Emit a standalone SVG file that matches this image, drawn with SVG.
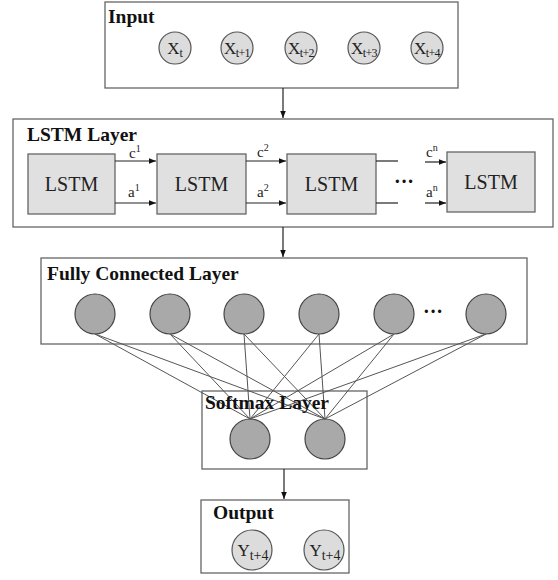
<svg xmlns="http://www.w3.org/2000/svg" width="558" height="580" viewBox="0 0 558 580">
<style>
.box{fill:#fff;stroke:#666;stroke-width:1.3}
.title{font-family:"Liberation Serif",serif;font-weight:bold;font-size:19.5px;fill:#111}
.lstm{fill:#e0e0e0;stroke:#666;stroke-width:1.3}
.lt{font-family:"Liberation Serif",serif;font-size:20px;fill:#222;text-anchor:middle}
.in{fill:#dcdcdc;stroke:#555;stroke-width:1.2}
.fc{fill:#a9a9a9;stroke:#444;stroke-width:1.2}
.ct{font-family:"Liberation Serif",serif;font-size:17px;fill:#222;text-anchor:middle}
.sm{font-family:"Liberation Serif",serif;font-size:15px;fill:#222}
.ln{stroke:#222;stroke-width:1.2;fill:none}
.fl{stroke:#555;stroke-width:1}
.dots{font-family:"Liberation Serif",serif;font-weight:bold;font-size:20px;fill:#111}
</style>
<defs>
<marker id="ah" viewBox="0 0 10 10" refX="10" refY="5" markerWidth="7" markerHeight="7" orient="auto" markerUnits="userSpaceOnUse">
<path d="M0,1 L10,5 L0,9 Z" fill="#111"/>
</marker>
</defs>

<g id="input">
<rect class="box" x="105" y="2" width="353" height="86"/>
<text class="title" x="108" y="23">Input</text>
<circle class="in" cx="175" cy="48" r="16"/>
<circle class="in" cx="237" cy="48" r="16"/>
<circle class="in" cx="301" cy="48" r="16"/>
<circle class="in" cx="364" cy="48" r="16"/>
<circle class="in" cx="427" cy="48" r="16"/>
<text class="ct" x="175" y="54" font-size="17.5">X<tspan font-size="12" dy="3">t</tspan></text>
<text class="ct" x="237" y="54" font-size="17.5" letter-spacing="-0.6">X<tspan font-size="12" dy="3">t+1</tspan></text>
<text class="ct" x="301" y="54" font-size="17.5" letter-spacing="-0.6">X<tspan font-size="12" dy="3">t+2</tspan></text>
<text class="ct" x="364" y="54" font-size="17.5" letter-spacing="-0.6">X<tspan font-size="12" dy="3">t+3</tspan></text>
<text class="ct" x="427" y="54" font-size="17.5" letter-spacing="-0.6">X<tspan font-size="12" dy="3">t+4</tspan></text>
</g>

<g id="lstm-layer">
<rect class="box" x="13" y="119" width="540" height="108"/>
<text class="title" x="27" y="141" font-size="18.5">LSTM Layer</text>
</g>
<g id="lstm1">
<rect class="lstm" x="28" y="154" width="87" height="60"/>
<text class="lt" x="71.5" y="191">LSTM</text>
</g>
<g id="lstm2">
<rect class="lstm" x="157" y="154" width="89" height="60"/>
<text class="lt" x="201.5" y="191">LSTM</text>
</g>
<g id="lstm3">
<rect class="lstm" x="287" y="154" width="89" height="60"/>
<text class="lt" x="331.5" y="191">LSTM</text>
</g>
<g id="lstm4">
<rect class="lstm" x="447" y="152" width="88" height="60"/>
<text class="lt" x="491" y="189">LSTM</text>
</g>

<g id="fc-layer">
<rect class="box" x="41" y="258" width="486" height="86"/>
<text class="title" x="47" y="280">Fully Connected Layer</text>
<circle class="fc" cx="95" cy="314" r="20"/>
<circle class="fc" cx="170" cy="314" r="20"/>
<circle class="fc" cx="244" cy="314" r="20"/>
<circle class="fc" cx="319" cy="314" r="20"/>
<circle class="fc" cx="394" cy="314" r="20"/>
<circle class="fc" cx="486" cy="314" r="20"/>
<text class="dots" x="423" y="318">···</text>
</g>

<g id="softmax-layer">
<rect class="box" x="202" y="391" width="165" height="78"/>
<circle class="fc" cx="250" cy="439" r="20"/>
<circle class="fc" cx="325" cy="439" r="20"/>
</g>

<g id="output">
<rect class="box" x="201" y="500" width="148" height="73"/>
<text class="title" x="213" y="519">Output</text>
<circle class="in" cx="252" cy="550" r="20"/>
<circle class="in" cx="324" cy="550" r="20"/>
<text class="ct" x="253" y="556" font-size="18">Y<tspan font-size="14" dy="4">t+4</tspan></text>
<text class="ct" x="325" y="556" font-size="18">Y<tspan font-size="14" dy="4">t+4</tspan></text>
</g>

<g id="connectors">
<line class="ln" x1="283" y1="88" x2="283" y2="118" marker-end="url(#ah)"/>
<line class="ln" x1="283" y1="227" x2="283" y2="257" marker-end="url(#ah)"/>
<line class="ln" x1="284" y1="469" x2="284" y2="499" marker-end="url(#ah)"/>
<line class="ln" x1="115" y1="161" x2="156" y2="161" marker-end="url(#ah)"/>
<line class="ln" x1="115" y1="203" x2="156" y2="203" marker-end="url(#ah)"/>
<line class="ln" x1="246" y1="161" x2="286" y2="161" marker-end="url(#ah)"/>
<line class="ln" x1="246" y1="203" x2="286" y2="203" marker-end="url(#ah)"/>
<line class="ln" x1="376" y1="161" x2="398" y2="161"/>
<line class="ln" x1="376" y1="203" x2="398" y2="203"/>
<line class="ln" x1="425" y1="162" x2="446" y2="162" marker-end="url(#ah)"/>
<line class="ln" x1="425" y1="203" x2="446" y2="203" marker-end="url(#ah)"/>
<g class="fl">
<line x1="95" y1="334" x2="250" y2="419"/><line x1="95" y1="334" x2="325" y2="419"/>
<line x1="170" y1="334" x2="250" y2="419"/><line x1="170" y1="334" x2="325" y2="419"/>
<line x1="244" y1="334" x2="250" y2="419"/><line x1="244" y1="334" x2="325" y2="419"/>
<line x1="319" y1="334" x2="250" y2="419"/><line x1="319" y1="334" x2="325" y2="419"/>
<line x1="394" y1="334" x2="250" y2="419"/><line x1="394" y1="334" x2="325" y2="419"/>
<line x1="486" y1="334" x2="250" y2="419"/><line x1="486" y1="334" x2="325" y2="419"/>
</g>
</g>

<g id="lstm-labels">
<text class="sm" x="129" y="158">c<tspan font-size="10" dy="-6">1</tspan></text>
<text class="sm" x="128" y="197">a<tspan font-size="10" dy="-6">1</tspan></text>
<text class="sm" x="257" y="157">c<tspan font-size="10" dy="-6">2</tspan></text>
<text class="sm" x="257" y="197">a<tspan font-size="10" dy="-6">2</tspan></text>
<text class="sm" x="426" y="157">c<tspan font-size="10" dy="-6">n</tspan></text>
<text class="sm" x="426" y="197">a<tspan font-size="10" dy="-6">n</tspan></text>
<text class="dots" x="394" y="188">···</text>
</g>
<text class="title" x="205" y="409">Softmax Layer</text>
</svg>
